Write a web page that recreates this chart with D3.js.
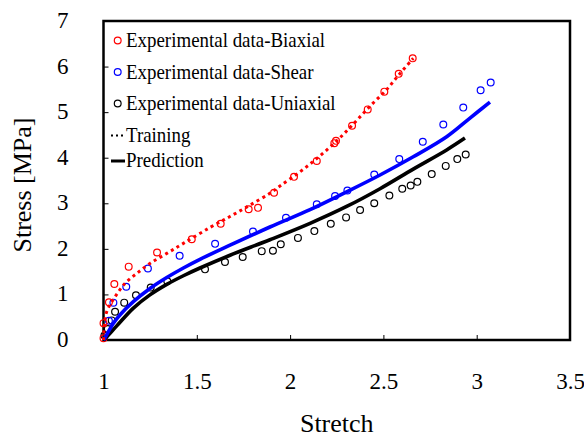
<!DOCTYPE html>
<html>
<head>
<meta charset="utf-8">
<script src="https://cdn.jsdelivr.net/npm/d3@7"></script>
<style>
  body { margin: 0; background: #fff; }
  text { font-family: "Liberation Serif", "Times New Roman", serif; fill: #000; }
</style>
</head>
<body>
<div id="chart"></div>
<script>
// x ticks, y ticks
const xTicks = [1, 1.5, 2, 2.5, 3, 3.5];
const yTicks = [0, 1, 2, 3, 4, 5, 6, 7];

// experimental points [stretch, stress]
const biaxial = [
  [1.00, 0.04], [1.00, 0.37], [1.029, 0.83], [1.058, 1.23], [1.135, 1.61], [1.287, 1.92],
  [1.473, 2.21], [1.628, 2.55], [1.778, 2.87], [1.828, 2.90], [1.914, 3.23], [2.021, 3.58],
  [2.143, 3.93], [2.237, 4.32], [2.246, 4.37], [2.332, 4.70], [2.416, 5.06], [2.505, 5.45],
  [2.582, 5.84], [2.657, 6.18]
];
const shear = [
  [1.029, 0.42], [1.053, 0.82], [1.122, 1.17], [1.238, 1.57], [1.408, 1.85], [1.598, 2.11],
  [1.801, 2.38], [1.978, 2.68], [2.143, 2.98], [2.241, 3.16], [2.307, 3.28], [2.451, 3.63],
  [2.585, 3.97], [2.711, 4.35], [2.821, 4.73], [2.928, 5.10], [3.021, 5.48], [3.075, 5.65]
];
const uniaxial = [
  [1.005, 0.10], [1.023, 0.24], [1.044, 0.43], [1.062, 0.62], [1.111, 0.82], [1.174, 0.98],
  [1.253, 1.15], [1.342, 1.29], [1.544, 1.55], [1.651, 1.71], [1.746, 1.82], [1.848, 1.95],
  [1.908, 1.96], [1.950, 2.10], [2.042, 2.24], [2.130, 2.39], [2.218, 2.55], [2.300, 2.69],
  [2.375, 2.85], [2.451, 3.00], [2.532, 3.17], [2.601, 3.32], [2.646, 3.39], [2.682, 3.47],
  [2.759, 3.64], [2.834, 3.82], [2.896, 3.97], [2.941, 4.07]
];

// model curves
const trainingBiaxial = [
  [1.0, 0], [1.004, 0.30], [1.017, 0.62], [1.062, 0.95], [1.115, 1.24], [1.178, 1.46],
  [1.249, 1.68], [1.339, 1.90], [1.428, 2.12], [1.571, 2.47], [1.678, 2.71], [1.785, 2.96],
  [1.892, 3.22], [1.946, 3.38], [2.053, 3.69], [2.151, 4.01], [2.250, 4.37], [2.339, 4.74],
  [2.428, 5.13], [2.518, 5.50], [2.589, 5.85], [2.660, 6.18]
];
const predShear = [
  [1.0, 0], [1.008, 0.05], [1.053, 0.37], [1.088, 0.55], [1.160, 0.84], [1.249, 1.13],
  [1.339, 1.37], [1.428, 1.58], [1.517, 1.77], [1.678, 2.08], [1.892, 2.48], [2.107, 2.86],
  [2.303, 3.25], [2.482, 3.62], [2.660, 4.02], [2.839, 4.46], [2.964, 4.87], [3.071, 5.22]
];
const predUniaxial = [
  [1.0, 0], [1.008, 0.03], [1.071, 0.31], [1.160, 0.70], [1.249, 0.99], [1.339, 1.22],
  [1.428, 1.41], [1.517, 1.58], [1.678, 1.86], [1.892, 2.20], [2.107, 2.56], [2.303, 2.93],
  [2.482, 3.32], [2.660, 3.75], [2.839, 4.17], [2.937, 4.43]
];

const width = 584;
const height = 437;

const svg = d3.select('#chart')
  .append('svg')
  .attr('width', width)
  .attr('height', height);

svg.append('rect').attr('width', width).attr('height', height).attr('fill', '#fff');

const x = d3.scaleLinear().domain([1, 3.5]).range([103.5, 570]);
const y = d3.scaleLinear().domain([0, 7]).range([340, 21]);

// axes, ticks point inwards
const xAxis = svg.append('g')
  .attr('transform', `translate(0,${y(0)})`)
  .call(d3.axisBottom(x).tickValues(xTicks).tickFormat(d3.format('')).tickSizeInner(-5).tickSizeOuter(0).tickPadding(33));
const yAxis = svg.append('g')
  .attr('transform', `translate(${x(1)},0)`)
  .call(d3.axisLeft(y).tickValues(yTicks).tickFormat(d3.format('')).tickSizeInner(-5).tickSizeOuter(0).tickPadding(35));

[xAxis, yAxis].forEach(function (a) {
  a.attr('font-family', null);
  a.select('.domain').remove();
  a.selectAll('.tick line').attr('stroke', '#000').attr('stroke-width', 1);
  a.selectAll('.tick text').style('font-size', '23px');
});
yAxis.selectAll('.tick text').attr('dy', '0.28em');

// frame
svg.append('rect')
  .attr('x', x(1))
  .attr('y', y(7))
  .attr('width', x(3.5) - x(1))
  .attr('height', y(0) - y(7))
  .attr('fill', 'none')
  .attr('stroke', '#000')
  .attr('stroke-width', 2.5);

const line = d3.line()
  .x(function (d) { return x(d[0]); })
  .y(function (d) { return y(d[1]); })
  .curve(d3.curveCatmullRom.alpha(0.5));

const plot = svg.append('g');

function points(data, color) {
  plot.append('g')
    .selectAll('circle')
    .data(data)
    .enter().append('circle')
    .attr('cx', function (d) { return x(d[0]); })
    .attr('cy', function (d) { return y(d[1]); })
    .attr('r', 3.4)
    .attr('fill', 'none')
    .attr('stroke', color)
    .attr('stroke-width', 1.2);
}

points(uniaxial, '#000');
points(shear, '#0000ff');
points(biaxial, '#ff0000');

plot.append('path')
  .datum(predUniaxial)
  .attr('d', line)
  .attr('fill', 'none')
  .attr('stroke', '#000')
  .attr('stroke-width', 3.6);

plot.append('path')
  .datum(predShear)
  .attr('d', line)
  .attr('fill', 'none')
  .attr('stroke', '#0000ff')
  .attr('stroke-width', 3.6);

plot.append('path')
  .datum(trainingBiaxial)
  .attr('d', line)
  .attr('fill', 'none')
  .attr('stroke', '#ff0000')
  .attr('stroke-width', 3)
  .attr('stroke-dasharray', '3,3.6');

// legend
const legendItems = [
  {label: 'Experimental data-Biaxial', color: '#ff0000', kind: 'circle'},
  {label: 'Experimental data-Shear', color: '#0000ff', kind: 'circle'},
  {label: 'Experimental data-Uniaxial', color: '#000', kind: 'circle'},
  {label: 'Training', color: '#000', kind: 'dots'},
  {label: 'Prediction', color: '#000', kind: 'solid'}
];
const legendY = [47, 78.5, 110, 141.5, 167];

const legend = svg.append('g');
legendItems.forEach(function (item, i) {
  const g = legend.append('g').attr('transform', `translate(0,${legendY[i]})`);
  if (item.kind === 'circle') {
    g.append('circle')
      .attr('cx', 117.7).attr('cy', -6.5).attr('r', 3.4)
      .attr('fill', 'none').attr('stroke', item.color).attr('stroke-width', 1.2);
  } else if (item.kind === 'dots') {
    g.append('line')
      .attr('x1', 111).attr('x2', 125).attr('y1', -6).attr('y2', -6)
      .attr('stroke', item.color).attr('stroke-width', 2).attr('stroke-dasharray', '2,3');
  } else {
    g.append('line')
      .attr('x1', 111).attr('x2', 125).attr('y1', -6).attr('y2', -6)
      .attr('stroke', item.color).attr('stroke-width', 3);
  }
  g.append('text')
    .attr('transform', 'translate(126,0) scale(0.88,1)')
    .style('font-size', '21.5px')
    .text(item.label);
});

// axis titles
svg.append('text')
  .attr('x', x(2.25))
  .attr('y', 432)
  .attr('text-anchor', 'middle')
  .style('font-size', '26px')
  .text('Stretch');

svg.append('text')
  .attr('transform', 'translate(31,185) rotate(-90)')
  .attr('text-anchor', 'middle')
  .style('font-size', '26px')
  .text('Stress [MPa]');
</script>
</body>
</html>
